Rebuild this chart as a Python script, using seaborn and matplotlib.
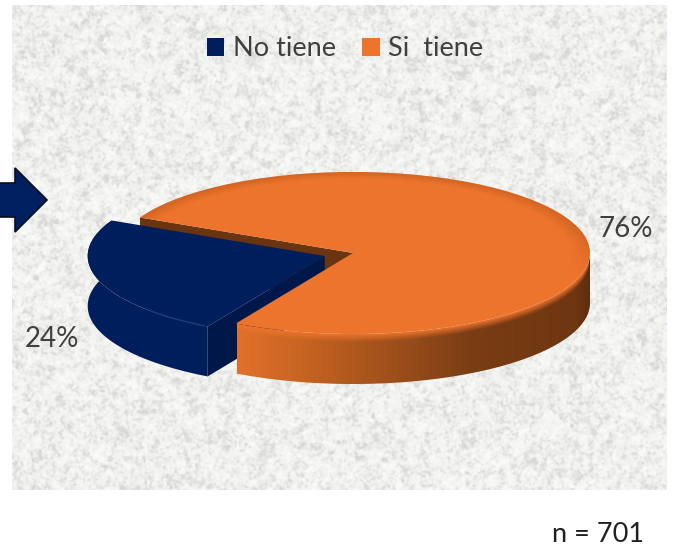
import numpy as np
import matplotlib
matplotlib.use("Agg")
import matplotlib.pyplot as plt
from matplotlib.patches import Polygon
from matplotlib.colors import to_rgb
import seaborn as sns

# ---- chart content ----
categories = ["No tiene", "Si  tiene"]
shares = [24, 76]
footnote = "n = 701"

# ---- style ----
W, H = 673, 556
NAVY, ORANGE = sns.color_palette(["#001E5C", "#EC742C"])
NAVY_CUT = "#00174A"
BROWN = "#6A3410"
TEXT = "#404040"
START = 154
EXPLODE = [0.125, 0]
RX, RY, DEPTH_PX = 237, 81, 50
APEX = (353, 253)

sns.set_theme(style="white")
plt.rcParams["font.family"] = ["Lato", "DejaVu Sans"]

fig = plt.figure(figsize=(W / 100, H / 100), dpi=100, facecolor="white")

# ---- textured panel ----
def blur(a, sigma):
    fy = np.fft.fftfreq(a.shape[0])[:, None]
    fx = np.fft.rfftfreq(a.shape[1])[None, :]
    g = np.exp(-2 * (np.pi * sigma) ** 2 * (fx ** 2 + fy ** 2))
    return np.fft.irfft2(np.fft.rfft2(a) * g, s=a.shape)

PX0, PX1, PY0, PY1 = 12, 667, 5, 490
bg_ax = fig.add_axes([PX0 / W, 1 - PY1 / H, (PX1 - PX0) / W, (PY1 - PY0) / H])
rng = np.random.default_rng(7)
noise = rng.normal(size=(PY1 - PY0, PX1 - PX0))
fine = blur(noise, 1.0)
coarse = blur(noise, 3.0)
tex = fine / fine.std() + 0.45 * coarse / coarse.std()
tex = np.clip(tex / tex.std(), -2.5, 2.2)
shade = np.where(tex > 0, 241 + 4 * tex, 241 + 10 * tex) / 255
bg = np.dstack([shade, shade, shade * 0.99])
bg_ax.imshow(bg, aspect="auto", interpolation="bilinear")
bg_ax.set_axis_off()

# ---- pie: top faces come from ax.pie ----
ax = fig.add_axes([0, 0, 1, 1], facecolor="none")
wedges, _ = ax.pie(shares, colors=[NAVY, ORANGE], startangle=START,
                   explode=EXPLODE, radius=1, center=(0, 0),
                   wedgeprops={"linewidth": 0, "edgecolor": "none"})
xlim = (-APEX[0] / RX, (W - APEX[0]) / RX)
ylim = (-(H - APEX[1]) / RY, APEX[1] / RY)
ax.set(xlim=xlim, ylim=ylim, aspect="auto")
ax.set_axis_off()
depth = DEPTH_PX / RY
w_navy, w_orange = wedges


def arc(w, t1, t2, n=200, dy=0.0):
    th = np.radians(np.linspace(t1, t2, n))
    return np.column_stack([w.center[0] + w.r * np.cos(th),
                            w.center[1] + w.r * np.sin(th) - dy])


def side(w, t1, t2):
    return np.vstack([arc(w, t1, t2), arc(w, t1, t2, dy=depth)[::-1]])


def cut_face(w, t):
    c = np.array(w.center)
    rim = arc(w, t, t, n=1)[0]
    d = np.array([0, depth])
    return np.array([c, rim, rim - d, c - d])


# inner brown face of the large slice, behind everything
ax.add_patch(Polygon(cut_face(w_orange, w_orange.theta2 - 360), fc=BROWN, ec=BROWN, lw=0, zorder=1))

# navy body
ax.add_patch(Polygon(side(w_navy, w_navy.theta1, w_navy.theta2), fc=NAVY, ec="none", zorder=2))
ax.add_patch(Polygon(cut_face(w_navy, w_navy.theta2), fc=NAVY_CUT, ec="none", zorder=2))
w_navy.set_zorder(3)
rim = arc(w_navy, 222, w_navy.theta2 - 1)
ax.plot(rim[:, 0], rim[:, 1], color="#1B3A78", lw=1.2, alpha=0.7, zorder=3.5)

# orange wall with horizontal shading
wall_c = np.array([to_rgb(c) for c in ["#E2702A", "#C96522", "#A8541D", "#7A3D14", "#6E3611", "#5E2D0D"]])
xs_px = np.arange(237, 592)
ys_px = np.arange(250, 392)
xx = (xs_px - APEX[0]) / RX
yy = (APEX[1] - ys_px) / RY
X, Y = np.meshgrid(xx, yy)
base = np.stack([np.interp(xs_px - 237, [0, 60, 135, 235, 340, 353], wall_c[:, i]) for i in range(3)], axis=-1)
base = np.broadcast_to(base[None, :, :], X.shape + (3,))
y_rim = -np.sqrt(np.clip(1 - X ** 2, 0, 1))
blend = np.clip((y_rim - Y) / 0.10, 0, 1)[..., None]
img = np.array(ORANGE) * (1 - blend) + base * blend
im = ax.imshow(img, extent=(xx[0], xx[-1], yy[-1], yy[0]), aspect="auto", zorder=4, interpolation="bilinear")
clip_poly = Polygon(side(w_orange, w_orange.theta1, 360), transform=ax.transData, fc="none", ec="none")
ax.add_patch(clip_poly)
im.set_clip_path(clip_poly)
w_orange.set_zorder(5)

# darker rim along the back of the top face
xs2 = np.linspace(-1, 1, 480)
ys2 = np.linspace(1, -1, 170)
X2, Y2 = np.meshgrid(xs2, ys2)
R = np.sqrt(X2 ** 2 + Y2 ** 2)
rim_a = np.clip((R - 0.92) / 0.08, 0, 1) * np.clip(Y2 * 2 + 0.5, 0, 1) * 0.5
over = np.zeros(X2.shape + (4,))
over[..., :3] = to_rgb("#B9551A")
over[..., 3] = rim_a
im2 = ax.imshow(over, extent=(-1, 1, -1, 1), aspect="auto", zorder=6, interpolation="bilinear")
im2.set_clip_path(w_orange)
ax.set(xlim=xlim, ylim=ylim, aspect="auto")

# value labels
ax.text(52 / W, 1 - 339 / H, f"{shares[0]}%", transform=ax.transAxes, ha="center", va="center",
        fontsize=20, color=TEXT, zorder=8)
ax.text(626 / W, 1 - 229 / H, f"{shares[1]}%", transform=ax.transAxes, ha="center", va="center",
        fontsize=20, color=TEXT, zorder=8)

# legend
leg = ax.legend(handles=wedges, labels=categories, ncol=2, frameon=False, fontsize=19.5,
                loc="center", bbox_to_anchor=(345 / W, 1 - 49 / H),
                handlelength=0.66, handleheight=0.66, handletextpad=0.32,
                columnspacing=0.95, labelcolor=TEXT, borderpad=0, borderaxespad=0)
leg.set_zorder(8)

# footnote
fig.text(598 / W, 1 - 535 / H, footnote, ha="center", va="center", fontsize=19.5, color="#202020")

# arrow overlay, cut by the left image edge
ov = fig.add_axes([0, 0, 1, 1], facecolor="none")
ov.set(xlim=(0, W), ylim=(H, 0))
ov.set_axis_off()
ov.add_patch(Polygon([(-4, 183), (15, 183), (15, 168), (47, 200), (15, 232), (15, 217), (-4, 217)],
                     closed=True, fc="#002060", ec="#0A0F1E", lw=1.2))

fig.savefig("out.png", dpi=100, facecolor="white")
